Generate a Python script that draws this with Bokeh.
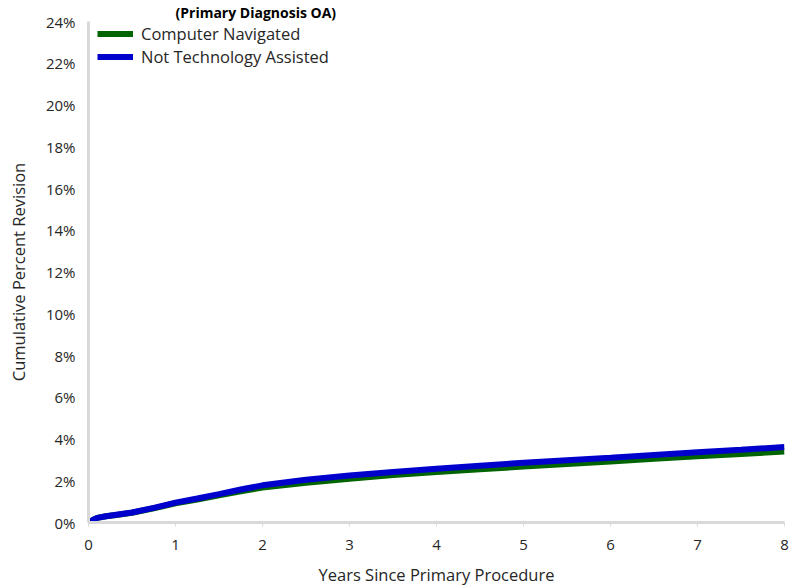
from bokeh.plotting import figure
from bokeh.models import FixedTicker, PrintfTickFormatter, Legend, LegendItem, Range1d
from bokeh.embed import file_html
from bokeh.resources import INLINE

# ---- data ----
title_text = "(Primary Diagnosis OA)"
years = [0, 0.05, 0.1, 0.2, 0.3, 0.5, 0.75, 1, 1.25, 1.5, 1.75, 2, 2.5, 3, 3.5, 4,
         4.5, 5, 5.5, 6, 6.5, 7, 7.5, 8]
computer_navigated = [0, 0.12, 0.22, 0.30, 0.35, 0.47, 0.68, 0.92, 1.10, 1.30, 1.50, 1.67,
                      1.90, 2.10, 2.27, 2.42, 2.55, 2.68, 2.80, 2.92, 3.05, 3.17, 3.28, 3.40]
not_tech_assisted = [0, 0.12, 0.22, 0.30, 0.36, 0.48, 0.70, 0.95, 1.15, 1.36, 1.58, 1.78,
                     2.05, 2.25, 2.42, 2.57, 2.72, 2.86, 2.98, 3.10, 3.23, 3.36, 3.48, 3.62]
x_ticks = [0, 1, 2, 3, 4, 5, 6, 7, 8]
y_ticks = [0, 2, 4, 6, 8, 10, 12, 14, 16, 18, 20, 22, 24]
series_names = ["Computer Navigated", "Not Technology Assisted"]
series_colors = ["#006400", "#0000CD"]

FONT = "Open Sans"
TXT = "#262626"

W, H = 790, 588
BL, BR, BT, BB = 88, 6, 21, 60
FRAME_H = H - BT - BB

p = figure(width=W, height=H, output_backend="svg", toolbar_location=None,
           x_range=Range1d(0, 8), y_range=Range1d(0, 24),
           min_border_left=BL, min_border_right=BR, min_border_top=BT, min_border_bottom=BB)
p.outline_line_color = None
p.xgrid.grid_line_color = None
p.ygrid.grid_line_color = None

# title (cut at the top edge in the reference; kept visible here)
p.title.text = title_text
p.title.text_font = FONT
p.title.text_font_size = "14px"
p.title.text_font_style = "bold"
p.title.text_color = "#000000"
p.title.standoff = 0
p.title.offset = 87

r1 = p.line(years, computer_navigated, line_color=series_colors[0], line_width=6)
r2 = p.line(years, not_tech_assisted, line_color=series_colors[1], line_width=6)

# axes
p.xaxis.ticker = FixedTicker(ticks=x_ticks)
p.yaxis.ticker = FixedTicker(ticks=y_ticks)
p.yaxis.formatter = PrintfTickFormatter(format="%d%%")
for ax in (p.xaxis[0], p.yaxis[0]):
    ax.axis_line_color = "#d9d9d9"
    ax.axis_line_width = 3
    ax.minor_tick_line_color = None
    ax.major_label_text_font = FONT
    ax.major_label_text_font_size = "15px"
    ax.major_label_text_color = TXT
    ax.axis_label_text_font = FONT
    ax.axis_label_text_font_size = "16.5px"
    ax.axis_label_text_font_style = "normal"
    ax.axis_label_text_color = TXT
p.xaxis.major_tick_line_color = "#d9d9d9"
p.xaxis.major_tick_in = 0
p.xaxis.major_tick_out = 4
p.xaxis.major_label_standoff = 13
p.xaxis.axis_label = "Years Since Primary Procedure"
p.xaxis.axis_label_standoff = 10
p.yaxis.major_tick_line_color = None
p.yaxis.major_tick_in = 0
p.yaxis.major_tick_out = 0
p.yaxis.major_label_standoff = 13
p.yaxis.axis_label = "Cumulative Percent Revision"
p.yaxis.axis_label_standoff = 13

LEG_ITEM_H = 23
legend = Legend(items=[LegendItem(label=series_names[0], renderers=[r1]),
                       LegendItem(label=series_names[1], renderers=[r2])],
                location=(9, FRAME_H - 7 - 2 * LEG_ITEM_H), margin=0, padding=0, spacing=0,
                glyph_width=36, glyph_height=LEG_ITEM_H, label_height=LEG_ITEM_H,
                label_standoff=8,
                label_text_font=FONT, label_text_font_size="16.5px", label_text_color=TXT,
                border_line_alpha=0, background_fill_alpha=0)
p.add_layout(legend)

open("out.html", "w").write(file_html(p, INLINE))
